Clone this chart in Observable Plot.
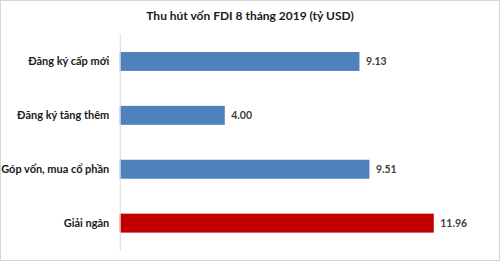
<!DOCTYPE html>
<html>
<head>
<meta charset="utf-8">
<script src="https://cdn.jsdelivr.net/npm/d3@7"></script>
<script src="https://cdn.jsdelivr.net/npm/@observablehq/plot@0.6"></script>
<style>
  html, body { margin: 0; padding: 0; background: #fff; }
  #wrap { position: relative; width: 500px; height: 261px; box-sizing: border-box; border: 1px solid #d6d6d6; background: #fff; overflow: hidden; }
  #title { position: absolute; left: 0; top: 7px; width: 498px; text-align: center; font: bold 12px Lato, "Open Sans", sans-serif; color: #1a1a1a; }
  #chart { position: absolute; left: -1px; top: 32px; }
</style>
</head>
<body>
<div id="wrap">
  <div id="title">Thu hút vốn FDI 8 tháng 2019 (tỷ USD)</div>
  <div id="chart"></div>
</div>
<script>
const categories = ["Đăng ký cấp mới", "Đăng ký tăng thêm", "Góp vốn, mua cổ phần", "Giải ngân"];
const values = [9.13, 4.00, 9.51, 11.96];
const colors = ["#4f81bd", "#4f81bd", "#4f81bd", "#c00000"];

const data = categories.map((c, i) => ({ category: c, value: values[i], color: colors[i] }));

const chart = Plot.plot({
  width: 500,
  height: 228,
  marginTop: 1,
  marginBottom: 10,
  marginLeft: 120,
  marginRight: 38,
  style: { fontFamily: "Lato, 'Open Sans', sans-serif", background: "transparent" },
  x: { domain: [0, 13], axis: null },
  y: { domain: categories, paddingInner: 0.65, paddingOuter: 0.325, axis: null },
  marks: [
    Plot.barX(data, { y: "category", x: "value", fill: "color" }),
    Plot.ruleX([0], { stroke: "#d9d9d9", strokeWidth: 1 }),
    Plot.text(data, { y: "category", x: 0, text: "category", textAnchor: "end", dx: -11, fontWeight: "bold", fontSize: 11, fill: "#1a1a1a" }),
    Plot.text(data, { y: "category", x: "value", text: d => d.value.toFixed(2), textAnchor: "start", dx: 6, fontWeight: "bold", fontSize: 10.5, fill: "#404040" })
  ]
});
document.getElementById("chart").appendChild(chart);
</script>
</body>
</html>
